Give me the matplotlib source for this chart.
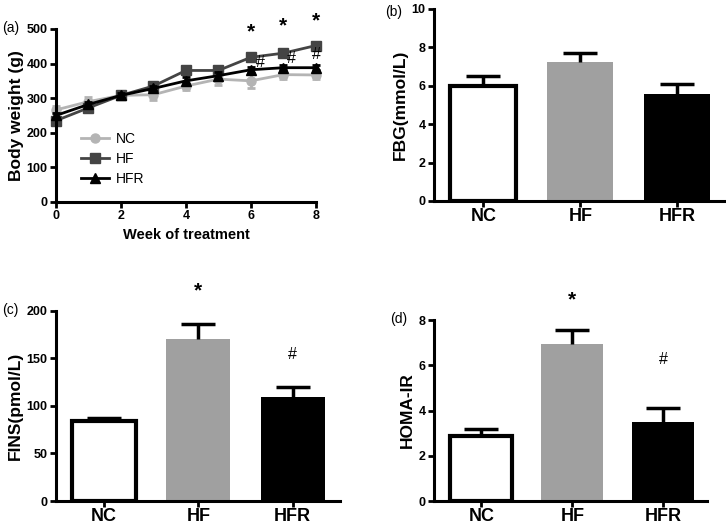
import numpy as np
import matplotlib
matplotlib.use("Agg")
import matplotlib.pyplot as plt

plt.rcParams['font.family'] = ['Liberation Sans', 'DejaVu Sans']

# body weight data (panel a)
weeks = [0, 1, 2, 3, 4, 5, 6, 7, 8]
nc_bw = [266, 290, 308, 310, 335, 355, 350, 368, 367]
nc_err = [10, 14, 10, 14, 12, 18, 20, 12, 12]
hf_bw = [235, 272, 308, 335, 380, 380, 418, 430, 452]
hf_err = [10, 10, 8, 8, 10, 10, 10, 8, 6]
hfr_bw = [250, 282, 308, 328, 350, 365, 382, 388, 388]
hfr_err = [8, 8, 8, 8, 10, 10, 8, 8, 8]

groups = ['NC', 'HF', 'HFR']
fbg = [5.97, 7.22, 5.55]
fbg_err = [0.56, 0.5, 0.55]
fins = [84, 170, 109]
fins_err = [3, 16, 11]
homa = [2.87, 6.94, 3.5]
homa_err = [0.3, 0.62, 0.62]

bar_fc = ['white', '#a0a0a0', 'black']
bar_ec = ['black', '#a0a0a0', 'black']

fig = plt.figure(figsize=(7.26, 5.26), dpi=100)

def style(ax):
    for s in ['top', 'right']:
        ax.spines[s].set_visible(False)
    for s in ['left', 'bottom']:
        ax.spines[s].set_linewidth(2.2)
    ax.tick_params(width=2, length=4, labelsize=9, pad=2)
    for lab in ax.get_yticklabels() + ax.get_xticklabels():
        lab.set_fontweight('bold')

# ---- panel (a)
ax = fig.add_axes([0.0771, 0.616, 0.358, 0.329])
series = [(nc_bw, nc_err, '#b4b4b4', 'o', 'NC'),
          (hf_bw, hf_err, '#444444', 's', 'HF'),
          (hfr_bw, hfr_err, 'black', '^', 'HFR')]
for vals, errs, c, m, name in series:
    ax.errorbar(weeks, vals, yerr=errs, fmt='none', ecolor=c, elinewidth=2,
                capsize=3, capthick=2, clip_on=False)
    ax.plot(weeks, vals, color=c, marker=m, ms=6.5, lw=2, label=name, clip_on=False)
ax.set_xlim(0, 8)
ax.set_ylim(0, 500)
ax.set_xticks([0, 2, 4, 6, 8])
ax.set_yticks([0, 100, 200, 300, 400, 500])
ax.set_xlabel('Week of treatment', fontsize=10.5, fontweight='bold', labelpad=4)
ax.set_ylabel('Body weight (g)', fontsize=12.5, fontweight='bold', labelpad=2)
style(ax)
for w, y in zip([6, 7, 8], [492, 509, 524]):
    ax.text(w, y, '*', ha='center', va='center', fontsize=15, fontweight='bold')
for w, y in zip([6.3, 7.25, 8.0], [403, 415, 425]):
    ax.text(w, y, '#', ha='center', va='center', fontsize=11.5)
ax.legend(loc='lower left', bbox_to_anchor=(0.05, 0.02), frameon=False,
          fontsize=10, handlelength=2, labelspacing=0.45, handletextpad=0.5)
fig.text(0.003, 0.947, '(a)', fontsize=10, va='center')

# ---- bar panels
def bars(rect, vals, errs, ylim, yticks, ylabel, letter, lpos, xlim, marks=None):
    ax = fig.add_axes(rect)
    x = np.arange(len(groups))
    ax.bar(x, vals, width=0.68, color=bar_fc, edgecolor=bar_ec, linewidth=[3, 0, 0])
    eb = ax.errorbar(x, vals, yerr=[np.zeros(len(errs)), errs], fmt='none',
                     ecolor='black', elinewidth=2.5, capsize=12, capthick=2.5)
    eb[1][0].set_visible(False)
    ax.set_xlim(*xlim)
    ax.set_ylim(*ylim)
    ax.set_yticks(yticks)
    ax.set_xticks(x)
    ax.set_xticklabels(groups)
    ax.set_ylabel(ylabel, fontsize=12.5, fontweight='bold', labelpad=3)
    style(ax)
    ax.tick_params(axis='x', labelsize=13, pad=1)
    if marks:
        for xi, y, s in marks:
            if s == '*':
                ax.text(xi, y, s, ha='center', va='center', fontsize=15,
                        fontweight='bold', clip_on=False)
            else:
                ax.text(xi, y, s, ha='center', va='center', fontsize=11.5,
                        clip_on=False)
    fig.text(lpos[0], lpos[1], letter, fontsize=10, va='center')
    return ax

bars([0.5978, 0.618, 0.4008, 0.365], fbg, fbg_err, (0, 10), [0, 2, 4, 6, 8, 10],
     'FBG(mmol/L)', '(b)', (0.531, 0.978), (-0.51, 2.49))
bars([0.0771, 0.0475, 0.391, 0.3615], fins, fins_err, (0, 200), [0, 50, 100, 150, 200],
     'FINS(pmol/L)', '(c)', (0.003, 0.41), (-0.51, 2.5),
     marks=[(1, 221, '*'), (2, 154, '#')])
bars([0.5978, 0.0475, 0.3762, 0.3441], homa, homa_err, (0, 8), [0, 2, 4, 6, 8],
     'HOMA-IR', '(d)', (0.537, 0.393), (-0.52, 2.48),
     marks=[(1, 8.9, '*'), (2, 6.24, '#')])

fig.savefig('out.png', dpi=100)
